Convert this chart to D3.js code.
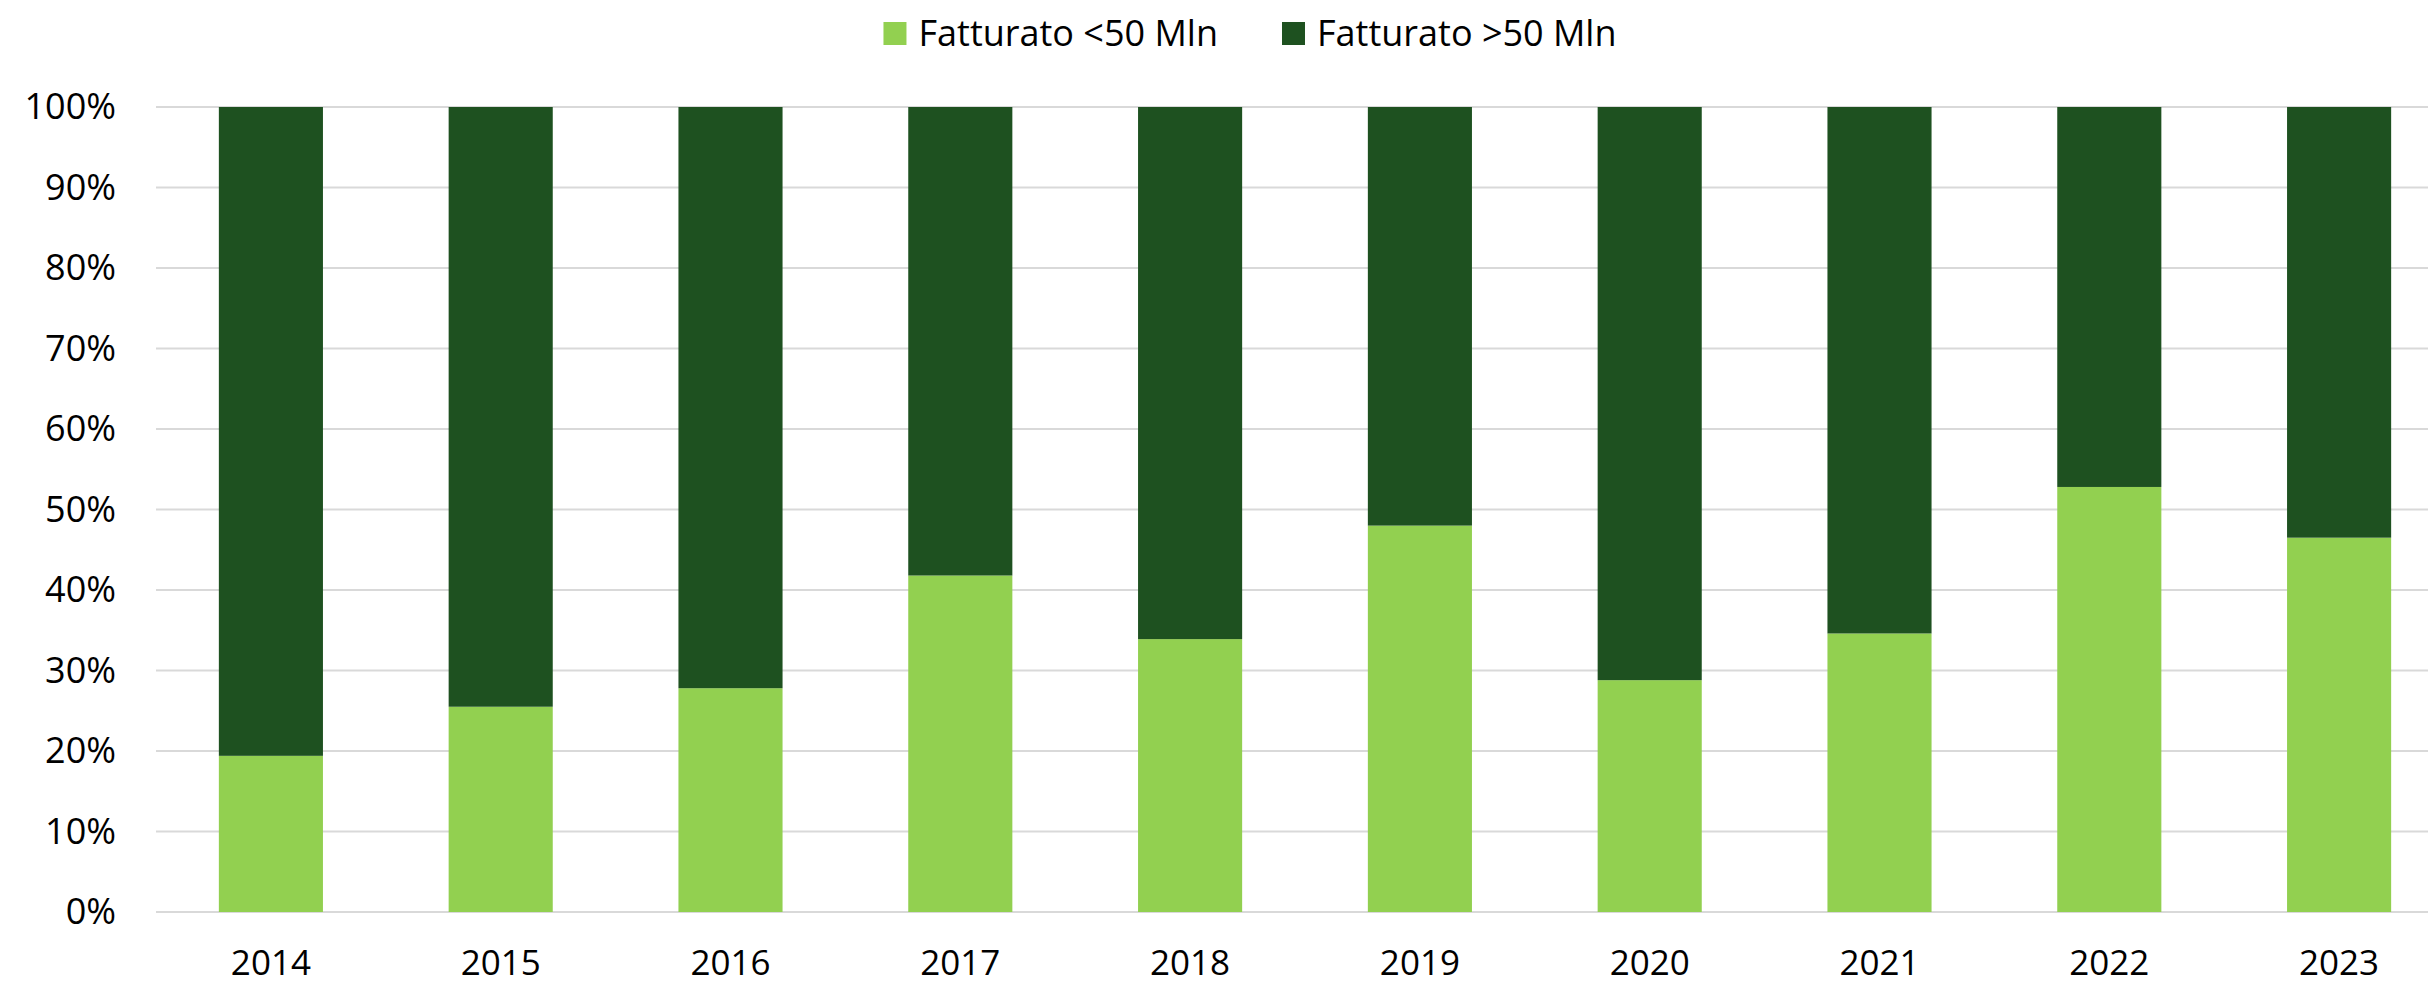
<!DOCTYPE html>
<html>
<head>
<meta charset="utf-8">
<script src="https://cdn.jsdelivr.net/npm/d3@7"></script>
<style>
  html, body { margin: 0; padding: 0; background: #fff; }
  svg text { font-family: "Open Sans", sans-serif; fill: #000; }
</style>
</head>
<body>
<div id="chart"></div>
<script>
// Data
const years = ["2014", "2015", "2016", "2017", "2018", "2019", "2020", "2021", "2022", "2023"];
const smallShare = [19.4, 25.5, 27.8, 41.8, 33.9, 48.0, 28.8, 34.6, 52.8, 46.5]; // Fatturato <50 Mln
const largeShare = smallShare.map(v => 100 - v);                                // Fatturato >50 Mln
const seriesNames = ["Fatturato <50 Mln", "Fatturato >50 Mln"];
const seriesColors = ["#92D050", "#1E5120"];
const yTicks = [0, 10, 20, 30, 40, 50, 60, 70, 80, 90, 100];

const width = 2428, height = 987;
const plot = { left: 156, right: 2454, top: 107, bottom: 912 };

const svg = d3.select("#chart").append("svg")
    .attr("width", width)
    .attr("height", height);

const x = d3.scaleBand()
    .domain(years)
    .range([plot.left, plot.right])
    .paddingInner(0.547)
    .paddingOuter(0.2735);

const y = d3.scaleLinear()
    .domain([0, 100])
    .range([plot.bottom, plot.top]);

// gridlines
svg.append("g")
  .selectAll("line")
  .data(yTicks)
  .join("line")
    .attr("x1", plot.left)
    .attr("x2", width)
    .attr("y1", d => y(d))
    .attr("y2", d => y(d))
    .attr("stroke", "#D9D9D9")
    .attr("stroke-width", 2);

// stacked bars
const rows = years.map((yr, i) => ({ year: yr, small: smallShare[i], large: largeShare[i] }));
const stacked = d3.stack().keys(["small", "large"])(rows);

svg.append("g")
  .selectAll("g")
  .data(stacked)
  .join("g")
    .attr("fill", (d, i) => seriesColors[i])
  .selectAll("rect")
  .data(d => d)
  .join("rect")
    .attr("x", d => x(d.data.year))
    .attr("width", x.bandwidth())
    .attr("y", d => y(d[1]))
    .attr("height", d => y(d[0]) - y(d[1]));

// y axis labels
const yAxis = d3.axisLeft(y)
    .tickValues(yTicks)
    .tickFormat(d => d + "%")
    .tickSize(0)
    .tickPadding(0);

svg.append("g")
    .attr("transform", `translate(116,0)`)
    .call(yAxis)
    .call(g => g.select(".domain").remove())
    .call(g => g.selectAll("text")
        .attr("font-family", "Open Sans")
        .attr("font-size", 36)
        .attr("fill", "#000"));

// x axis labels
const xAxis = d3.axisBottom(x).tickSize(0).tickPadding(0);

svg.append("g")
    .attr("transform", `translate(0,${plot.bottom})`)
    .call(xAxis)
    .call(g => g.select(".domain").remove())
    .call(g => g.selectAll("text")
        .attr("dy", null)
        .attr("y", 63)
        .attr("font-family", "Open Sans")
        .attr("font-size", 35)
        .attr("fill", "#000"));

// legend, centered above the plot
const legend = svg.append("g");
const items = legend.selectAll("g")
  .data(seriesNames)
  .join("g");

items.append("rect")
    .attr("width", 23)
    .attr("height", 23)
    .attr("y", 22)
    .attr("fill", (d, i) => seriesColors[i]);

items.append("text")
    .attr("x", 35)
    .attr("y", 46)
    .attr("font-size", 36)
    .text(d => d);

let offset = 0;
items.each(function() {
  const w = this.querySelector("text").getComputedTextLength();
  d3.select(this).attr("transform", `translate(${offset},0)`);
  offset += 35 + w + 64;
});
const legendWidth = offset - 64;
legend.attr("transform", `translate(${1250 - legendWidth / 2},0)`);
</script>
</body>
</html>
